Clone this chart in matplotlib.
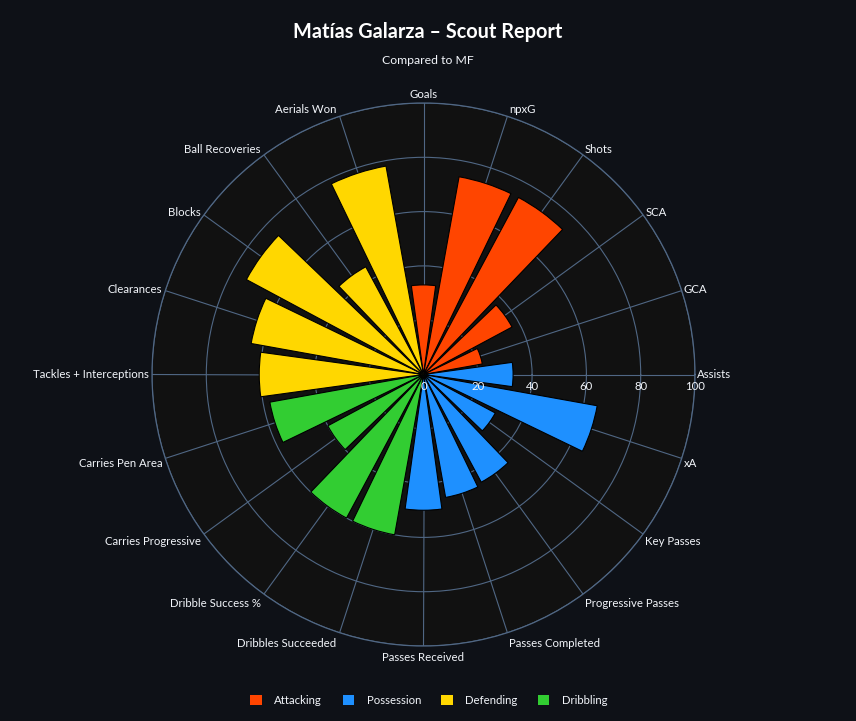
import numpy as np
import matplotlib
matplotlib.use("Agg")
import matplotlib.pyplot as plt
from matplotlib.patches import Patch

plt.rcParams["font.family"] = ["Lato", "DejaVu Sans"]

# ---- Data ----
categories = [
    "Goals", "npxG", "Shots", "SCA", "GCA",
    "Assists", "xA", "Key Passes", "Progressive Passes", "Passes Completed", "Passes Received",
    "Dribbles Succeeded", "Dribble Success %", "Carries Progressive", "Carries Pen Area",
    "Tackles + Interceptions", "Clearances", "Blocks", "Ball Recoveries", "Aerials Won",
]
values = [
    33, 74, 74, 37, 22,
    33, 65, 30, 45, 46, 50,
    60, 60, 40, 57.5,
    60.5, 64.5, 74, 45, 78,
]
groups = (["Attacking"] * 5 + ["Possession"] * 6 + ["Dribbling"] * 4 + ["Defending"] * 5)
group_order = ["Attacking", "Possession", "Defending", "Dribbling"]
group_colors = {
    "Attacking": "#FF4500",
    "Possession": "#1E90FF",
    "Defending": "#FFD700",
    "Dribbling": "#32CD32",
}
radial_ticks = [0, 20, 40, 60, 80, 100]

W, H, DPI = 856, 721, 100
fig = plt.figure(figsize=(W / DPI, H / DPI), dpi=DPI, facecolor="#0e1117")

# polar area: centre (423.5, 374.5) px, radius 271.5 px
cx, cy, R = 423.5, 374.5, 271.5
ax = fig.add_axes([(cx - R) / W, (H - cy - R) / H, 2 * R / W, 2 * R / H],
                  projection="polar")
ax.set_facecolor("#111111")

n = len(categories)
theta_deg = np.array([(90 - 360 / n * i) % 360 for i in range(n)])
theta = np.deg2rad(theta_deg)
colors = [group_colors[g] for g in groups]

# ---- Bars ----
ax.bar(theta, values, width=np.deg2rad(15.6), color=colors,
       edgecolor="#000000", linewidth=0.8, zorder=3)

# ---- Grid ----
grid_col = "#506784"
ax.set_xlim(0, 2 * np.pi)
ax.set_ylim(0, 100)
ax.set_xticks(theta)
ax.set_xticklabels([])
ax.set_yticks(radial_ticks[1:])
ax.set_yticklabels([])
ax.grid(True, color=grid_col, linewidth=0.8)
ax.set_axisbelow(True)
ax.spines["polar"].set_color(grid_col)
ax.spines["polar"].set_linewidth(0.9)
ax.tick_params(length=0)

label_fs = 8.2

# radial tick labels under the 0-degree line
for r in radial_ticks:
    ax.annotate(str(r), xy=(0, r), xytext=(0, -6), textcoords="offset pixels",
                ha="center", va="top", color="#f2f5fa", fontsize=label_fs,
                annotation_clip=False, zorder=5)

# angular labels outside the circle
for t, lab in zip(theta, categories):
    c, s = np.cos(t), np.sin(t)
    if abs(c) < 0.05:
        ha, dx = "center", 0
    elif c > 0:
        ha, dx = "left", 2
    else:
        ha, dx = "right", -3
    if s >= 0:
        dy = 8 * s ** 2
    else:
        dy = -(2.5 + 9 * abs(s))
    ax.annotate(lab, xy=(t, 100), xytext=(dx, dy), textcoords="offset pixels",
                ha=ha, va="center", color="#f2f5fa", fontsize=label_fs,
                annotation_clip=False)

# ---- Titles ----
fig.text(0.5, 1 - 32 / H, "Matías Galarza – Scout Report", ha="center", va="center",
         color="white", fontsize=14.3, fontweight="bold")
fig.text(0.5, 1 - 60 / H, "Compared to MF", ha="center", va="center",
         color="#f2f5fa", fontsize=8.8)

# ---- Legend ----
handles = [Patch(facecolor=group_colors[g], edgecolor="none", label=g) for g in group_order]
fig.legend(handles=handles, loc="center", bbox_to_anchor=(429 / W, 1 - 700 / H),
           ncol=4, frameon=False, fontsize=label_fs, labelcolor="#f2f5fa",
           handlelength=1.0, handleheight=1.0, handletextpad=1.1, columnspacing=1.8)

fig.savefig("out.png", dpi=DPI, facecolor=fig.get_facecolor())
